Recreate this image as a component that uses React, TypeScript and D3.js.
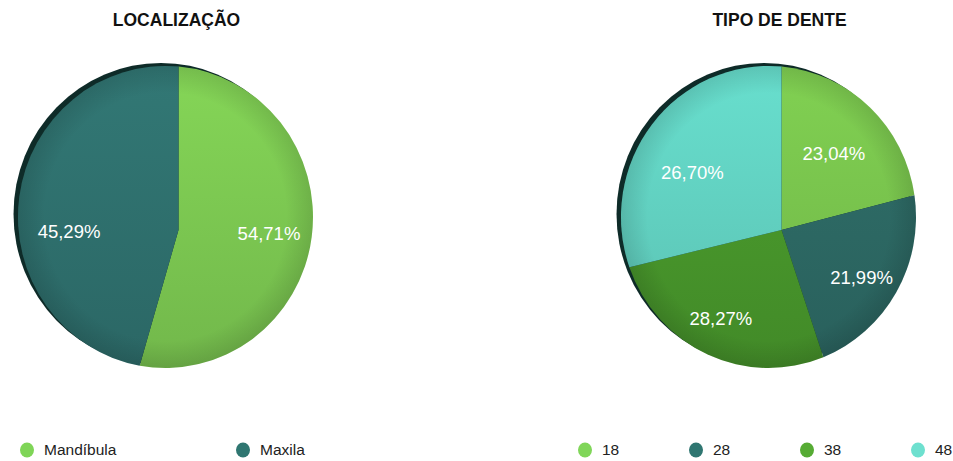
import * as d3 from "d3";

// Localização
const locCategories = ["Mandíbula", "Maxila"];
const locValues = [54.71, 45.29];
const locColors = ["#7fcd53", "#307370"];
const locLegendColors = ["#7fd557", "#2f7671"];

// Tipo de dente
const toothCategories = ["18", "28", "38", "48"];
const toothValues = [23.04, 21.99, 28.27, 26.7];
const toothColors = ["#7cc84f", "#2e6b66", "#4a9a2c", "#64d6c5"];
const toothLegendColors = ["#80d659", "#2f7671", "#56ab34", "#6ee0cf"];

const W = 953;
const H = 461;
const R = 147.5;
const Y_STRETCH = 151 / 147.5;
const APEX: [number, number] = [13, 12.7];
const SKEW = Math.tan((7.5 * Math.PI) / 180); // slight tilt of the disc
const LABEL_SKEW = 0.14;
const LABEL_ORIGIN: [number, number] = [3.5, 15.5];
const LABEL_DIST = 100;
const FONT = "'Liberation Sans', Arial, Helvetica, sans-serif";

const fmt = (v: number) => v.toFixed(2).replace(".", ",") + "%";

interface PieProps {
  id: string;
  title: string;
  cx: number;
  cy: number;
  categories: string[];
  values: number[];
  colors: string[];
  legendColors: string[];
  legendX: number;
  legendStep: number;
}

// direction for a pie angle (clockwise from up), tilted like the reference
function dir(ang: number, k = SKEW): [number, number] {
  const dx = Math.sin(ang);
  const dy = -Math.cos(ang) - k * Math.sin(ang);
  const n = Math.hypot(dx, dy);
  return [dx / n, dy / n];
}

// ray from apex hits the disc edge
function hit(ang: number): [number, number] {
  const [ax, ay] = APEX;
  const [dx, dy] = dir(ang);
  const b = 2 * (ax * dx + ay * dy);
  const c = ax * ax + ay * ay - R * R;
  const t = (-b + Math.sqrt(b * b - 4 * c)) / 2;
  return [ax + dx * t, ay + dy * t];
}

function Pie(p: PieProps) {
  const arcs = d3
    .pie<number>()
    .sort(null)
    .value((d) => d)(p.values);

  const [ax, ay] = APEX;

  const slices = arcs.map((a, i) => {
    const p0 = hit(a.startAngle);
    const p1 = hit(a.endAngle);
    const t0 = Math.atan2(p0[0], -p0[1]);
    const t1 = Math.atan2(p1[0], -p1[1]);
    const span = (((t1 - t0) % (2 * Math.PI)) + 2 * Math.PI) % (2 * Math.PI);
    const path = d3.path();
    path.moveTo(ax, ay);
    path.lineTo(p0[0], p0[1]);
    path.arc(0, 0, R, t0 - Math.PI / 2, t0 - Math.PI / 2 + span, false);
    path.closePath();
    const mid = (a.startAngle + a.endAngle) / 2;
    const [mx, my] = dir(mid, LABEL_SKEW);
    const lx = LABEL_ORIGIN[0] + mx * LABEL_DIST;
    const ly = LABEL_ORIGIN[1] + my * LABEL_DIST;
    return { d: path.toString(), color: p.colors[i], lx, ly, value: a.data };
  });

  return (
    <g>
      <defs>
        {p.colors.map((c, i) => (
          <linearGradient
            key={i}
            id={`${p.id}-g${i}`}
            gradientUnits="userSpaceOnUse"
            x1={0}
            y1={-R}
            x2={0}
            y2={R}
          >
            <stop offset="0%" stopColor={d3.color(c)!.brighter(0.12).formatHex()} />
            <stop offset="100%" stopColor={d3.color(c)!.darker(0.3).formatHex()} />
          </linearGradient>
        ))}
        <radialGradient id={`${p.id}-rim`} cx="50%" cy="50%" r="50%">
          <stop offset="82%" stopColor="#000" stopOpacity={0} />
          <stop offset="100%" stopColor="#000" stopOpacity={0.12} />
        </radialGradient>
      </defs>
      <text
        x={p.cx + 11}
        y={25.5}
        textAnchor="middle"
        fontFamily={FONT}
        fontWeight="bold"
        fontSize={17.5}
        fill="#111"
      >
        {p.title}
      </text>
      <g transform={`translate(${p.cx},${p.cy})`}>
        <g transform={`scale(1,${Y_STRETCH})`}>
          <circle cx={-4.5} cy={-3} r={R} fill="#0e2b28" />
          {slices.map((s, i) => (
            <path key={i} d={s.d} fill={`url(#${p.id}-g${i})`} />
          ))}
          <circle r={R} fill={`url(#${p.id}-rim)`} />
        </g>
        {slices.map((s, i) => (
          <text
            key={i}
            x={s.lx}
            y={s.ly}
            dy="0.35em"
            textAnchor="middle"
            fontFamily={FONT}
            fontSize={18.5}
            fill="#fff"
          >
            {fmt(s.value)}
          </text>
        ))}
      </g>
      {p.categories.map((c, i) => (
        <g key={c} transform={`translate(${p.legendX + i * p.legendStep},450)`}>
          <ellipse rx={7} ry={7.5} fill={p.legendColors[i]} />
          <text x={17} dy="0.35em" fontFamily={FONT} fontSize={15.5} fill="#222">
            {c}
          </text>
        </g>
      ))}
    </g>
  );
}

export default function App() {
  return (
    <svg
      width={W}
      height={H}
      style={{ position: "absolute", left: 0, top: 0, background: "#fff" }}
    >
      <Pie
        id="loc"
        title="LOCALIZAÇÃO"
        cx={165.5}
        cy={217}
        categories={locCategories}
        values={locValues}
        colors={locColors}
        legendColors={locLegendColors}
        legendX={27}
        legendStep={216}
      />
      <Pie
        id="tooth"
        title="TIPO DE DENTE"
        cx={768.5}
        cy={217}
        categories={toothCategories}
        values={toothValues}
        colors={toothColors}
        legendColors={toothLegendColors}
        legendX={585}
        legendStep={111}
      />
    </svg>
  );
}
